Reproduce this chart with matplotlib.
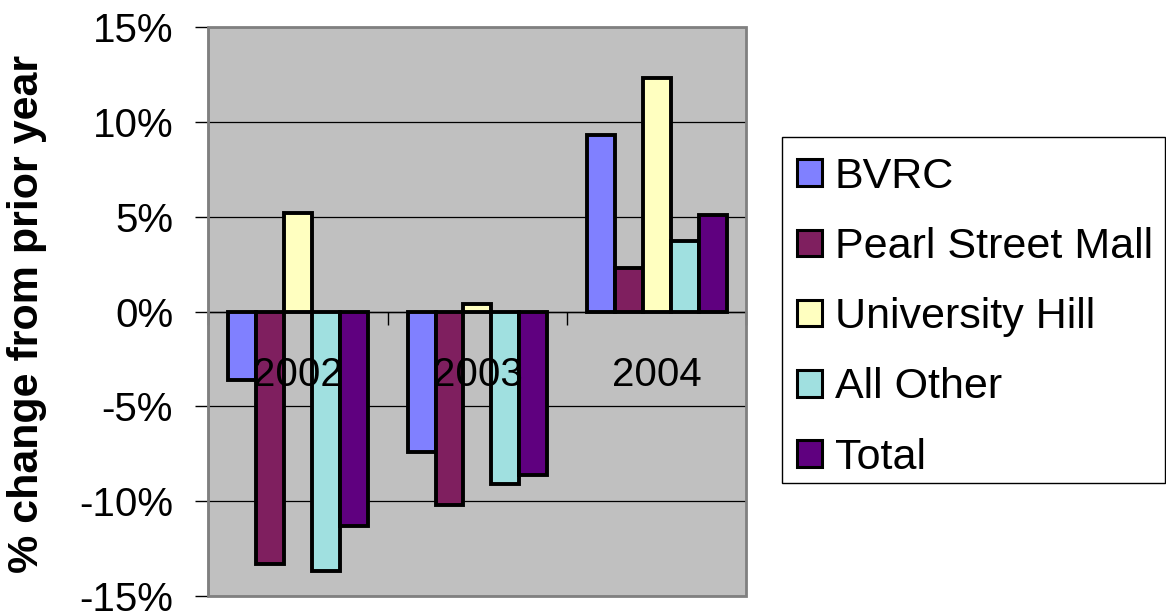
import matplotlib.pyplot as plt
import numpy as np
from matplotlib.patches import Rectangle
from matplotlib.ticker import FixedLocator, FuncFormatter

# yearly change by area, in percent
years = ['2002', '2003', '2004']
bvrc = [-3.6, -7.4, 9.3]
pearl_street = [-13.3, -10.2, 2.3]
university_hill = [5.2, 0.4, 12.3]
all_other = [-13.7, -9.1, 3.7]
total = [-11.3, -8.6, 5.1]

series_names = ['BVRC', 'Pearl Street Mall', 'University Hill', 'All Other', 'Total']
series_values = [bvrc, pearl_street, university_hill, all_other, total]
colors = ['#8080FF', '#7F1F5F', '#FFFFC0', '#A0E0E0', '#5F007F']

plt.rcParams['font.family'] = ['Liberation Sans', 'DejaVu Sans']

fig = plt.figure(figsize=(11.66, 6.14), dpi=100)
ax = fig.add_axes([0.1788, 0.0293, 0.4614, 0.9267])
ax.set_facecolor('#C0C0C0')

x = np.arange(len(years))
w = 0.156
for i, (name, vals) in enumerate(zip(series_names, series_values)):
    ax.bar(x + (i - 2) * w, vals, width=w, color=colors[i], edgecolor='black',
           linewidth=2.8, label=name, zorder=3)

ax.set_xlim(-0.5, 2.5)
ax.set_ylim(-15, 15)
ax.set_axisbelow(True)

# y axis
ax.yaxis.set_major_locator(FixedLocator([-15, -10, -5, 0, 5, 10, 15]))
ax.yaxis.set_major_formatter(FuncFormatter(lambda v, p: '%d%%' % v))
ax.tick_params(axis='y', direction='out', length=9.5, width=1, color='black',
               labelsize=29, pad=16)
ax.yaxis.grid(True, color='black', linewidth=0.9)

# x axis runs along zero, ticks between categories
ax.spines['bottom'].set_position(('data', 0))
ax.spines['bottom'].set_color('black')
ax.spines['bottom'].set_linewidth(1)
ax.set_xticks([])
ax.set_xticks([-0.5, 0.5, 1.5, 2.5], minor=True)
ax.tick_params(axis='x', which='minor', direction='out', length=9, width=1, color='black')
for i, yr in enumerate(years):
    ax.annotate(yr, (x[i], 0), xytext=(0, -32), textcoords='offset points',
                ha='center', va='top', fontsize=29, zorder=5)

for s in ['top', 'right']:
    ax.spines[s].set_visible(False)
ax.spines['left'].set_color('black')
ax.spines['left'].set_linewidth(1)
ax.add_patch(Rectangle((0, 0), 1, 1, transform=ax.transAxes, fill=False,
                       edgecolor='#808080', linewidth=2, zorder=4, clip_on=False))

fig.text(27 / 1166, 1 - 313.5 / 614, '% change from prior year', rotation=90,
         ha='center', va='center', fontsize=31, fontweight='bold')

# legend box drawn separately so its padding can be set freely
fig.patches.append(Rectangle((782 / 1166, 1 - 483 / 614), 383 / 1166, 346 / 614,
                             transform=fig.transFigure, fill=False,
                             edgecolor='black', linewidth=1))
leg = ax.legend(loc='upper left', bbox_to_anchor=(797 / 1166, 1 - 157 / 614),
                bbox_transform=fig.transFigure, fontsize=31, frameon=False,
                handlelength=0.58, handleheight=0.58, handletextpad=0.3,
                labelspacing=0.7, borderpad=0, borderaxespad=0)
for h in leg.legend_handles:
    h.set_linewidth(2.2)

plt.savefig('out.png', dpi=100)
